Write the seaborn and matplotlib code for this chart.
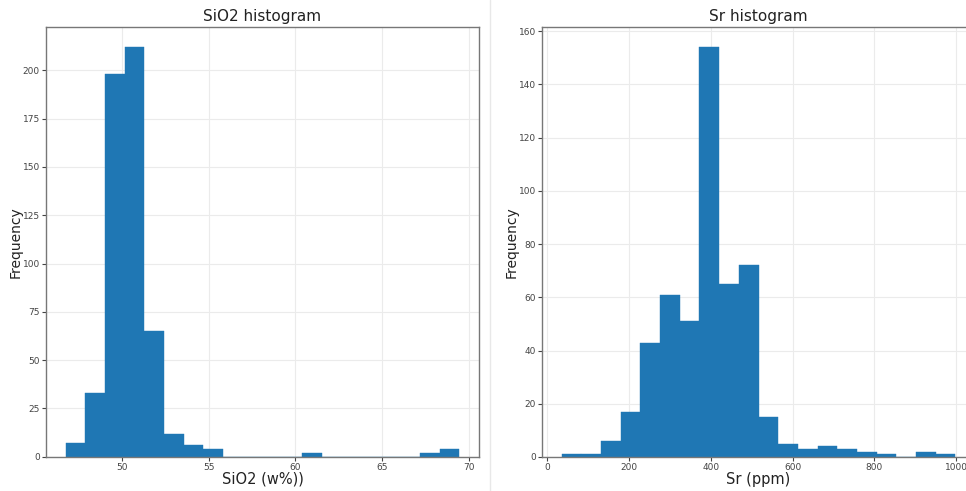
import numpy as np
import pandas as pd
import matplotlib
matplotlib.use("Agg")
import matplotlib.pyplot as plt
import seaborn as sns
from matplotlib.lines import Line2D

sns.set_theme(style="ticks")
plt.rcParams['font.family'] = ['DejaVu Sans']

# SiO2 histogram: 20 bins between the min and max of the data
sio2_min, sio2_max = 46.74, 69.46
sio2_counts = [7, 33, 198, 212, 65, 12, 6, 4, 0, 0,
               0, 0, 2, 0, 0, 0, 0, 0, 2, 4]

# Sr histogram: 20 bins
sr_min, sr_max = 36.0, 997.5
sr_counts = [1, 1, 6, 17, 43, 61, 51, 154, 65, 72,
             15, 5, 3, 4, 3, 2, 1, 0, 2, 1]

panels = [
    ("SiO2 histogram", "SiO2 (w%))", sio2_min, sio2_max, sio2_counts, [50, 55, 60, 65, 70]),
    ("Sr histogram", "Sr (ppm)", sr_min, sr_max, sr_counts, [0, 200, 400, 600, 800, 1000]),
]

fig = plt.figure(figsize=(9.66, 4.91), dpi=100)
W, H = 966, 491
ax_boxes = [
    [46 / W, (H - 456.7) / H, 433 / W, 430 / H],
    [542 / W, (H - 457) / H, 433 / W, 430.5 / H],
]

for box, (title, xlabel, lo, hi, counts, xticks) in zip(ax_boxes, panels):
    ax = fig.add_axes(box)
    edges = np.linspace(lo, hi, len(counts) + 1)
    df = pd.DataFrame({"center": (edges[:-1] + edges[1:]) / 2, "count": counts})
    sns.histplot(data=df, x="center", weights="count", bins=edges.tolist(), ax=ax,
                 color="#1f77b4", alpha=1, edgecolor="#1f77b4", linewidth=0.3)
    ax.set_ylim(0, max(counts) * 1.05)
    ax.set_xlim(lo - 0.05 * (hi - lo), hi + 0.05 * (hi - lo))
    ax.set_xticks(xticks)
    ax.grid(True, color="#ebebeb", linewidth=0.8)
    ax.set_axisbelow(True)
    ax.set_title(title, fontsize=11, pad=4, color="#222222")
    ax.set_xlabel(xlabel, fontsize=10.5, labelpad=0, color="#222222")
    ax.set_ylabel("Frequency", fontsize=10, labelpad=0, color="#222222")
    ax.tick_params(labelsize=6.5, colors="#444444", length=3, width=0.8, pad=1.5)
    for sp in ax.spines.values():
        sp.set_color("#777777")
        sp.set_linewidth(1.0)

# faint separator between the two figure panels
fig.add_artist(Line2D([490 / W, 490 / W], [0, 1], color="#e8e8e8", linewidth=1))

fig.savefig("out.png", dpi=100, facecolor="white")
